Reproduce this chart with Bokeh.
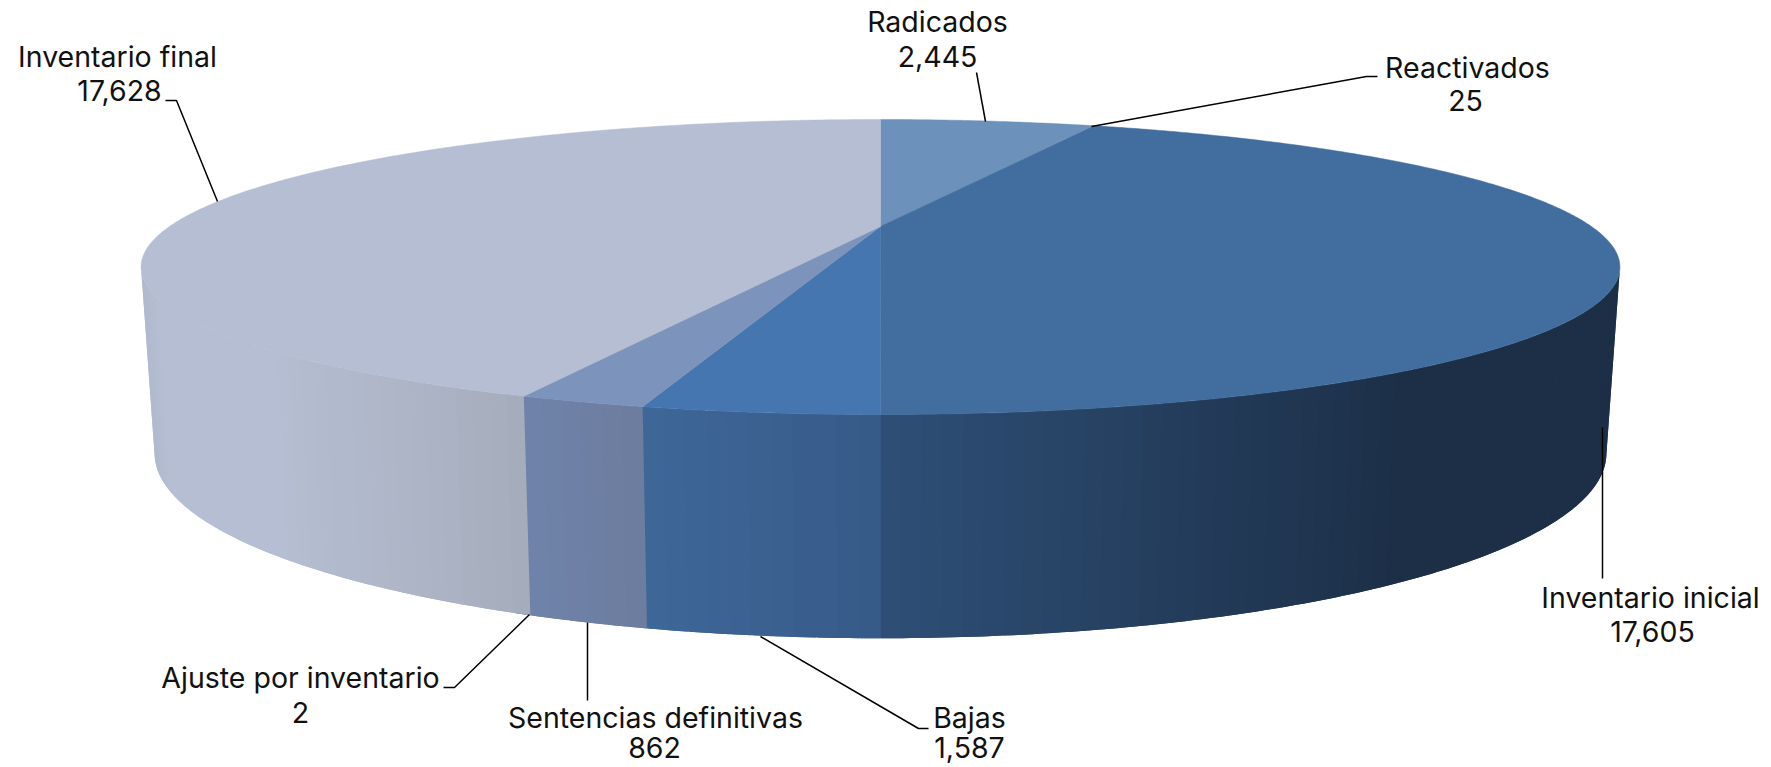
import math
from bokeh.plotting import figure
from bokeh.models import ColumnDataSource, Range1d
from bokeh.core.properties import value
from bokeh.embed import file_html
from bokeh.resources import INLINE

# ---- data ----
categories = ["Radicados", "Reactivados", "Inventario inicial", "Bajas",
              "Sentencias definitivas", "Ajuste por inventario", "Inventario final"]
values = [2445, 25, 17605, 1587, 862, 2, 17628]

# ---- style: top face colour, and side gradient stops (x, colour) per slice ----
top_colors = ["#6c92bb", "#6c92bb", "#426e9f", "#4676b0", "#7c93bb", "#7c93bb", "#b5bed2"]
side_stops = [
    [(0, "#6c92bb")],
    [(0, "#6c92bb")],
    [(880, "#2e4f77"), (1400, "#1c2f47"), (1700, "#1c2f47")],
    [(640, "#3e6899"), (880, "#375a88")],
    [(525, "#6f82aa"), (640, "#6c7d9e")],
    [(525, "#6f82aa")],
    [(139, "#adb7cb"), (165, "#b5bed2"), (280, "#b5bed2"), (525, "#a5adbc")],
]

# ---- projection of the disc: top rim and bottom rim (pixels of the window) ----
K = 0.2746
TOP = dict(cx=880.0, cy=226.0, a=711.0, b=136.4)
BOT = dict(cx=880.0, cy=402.0, a=698.0, b=171.0)

# ---- label layout: (centre x, baseline y) ----
name_pos = [(937, 31), (1467, 77), (1650, 607), (969, 727), (655, 727), (300, 687), (117, 66)]
num_pos = [(937, 66), (1465, 110), (1652, 641), (969, 757), (654, 757), (300, 722), (119, 100)]
leaders = [
    [(976, 72), (985, 121)],
    [(1091, 126), (1366, 76), (1377, 76)],
    [(1602, 427), (1602, 578)],
    [(760, 636), (918, 728), (928, 728)],
    [(587, 622), (587, 700)],
    [(529, 614), (454, 687), (443, 687)],
    [(217, 201), (176, 100), (165, 100)],
]
FONT = "Inter"
FONT_SIZE = "28.5px"
TEXT_DY = -10


def project(theta, rim):
    u, v = math.sin(theta), math.cos(theta)
    d = 1 + K * v
    return rim["cx"] + rim["a"] * u / d, rim["cy"] - rim["b"] * v / d


def hex2rgb(h):
    return tuple(int(h[i:i + 2], 16) for i in (1, 3, 5))


def shade(stops, x):
    if x <= stops[0][0]:
        return stops[0][1]
    for (x0, c0), (x1, c1) in zip(stops, stops[1:]):
        if x <= x1:
            t = (x - x0) / (x1 - x0)
            r0, r1 = hex2rgb(c0), hex2rgb(c1)
            return "#%02x%02x%02x" % tuple(round(p + (q - p) * t) for p, q in zip(r0, r1))
    return stops[-1][1]


total = sum(values)
edges = [0.0]
for val in values:
    edges.append(edges[-1] + val / total * 2 * math.pi)

front_start = math.acos(-K)
front_end = 2 * math.pi - front_start
STEP = math.radians(1.2)

side_x, side_y, side_c = [], [], []
top_x, top_y = [], []
for i in range(len(values)):
    t0, t1 = edges[i], edges[i + 1]
    # top face
    n = max(2, int((t1 - t0) / math.radians(0.5)))
    ts = [t0 + (t1 - t0) * j / n for j in range(n + 1)]
    pts = [project(t, TOP) for t in ts]
    top_x.append([TOP["cx"]] + [p[0] for p in pts])
    top_y.append([TOP["cy"]] + [p[1] for p in pts])
    # visible side wall, cut into strips painted in order, each lapping under the next
    a0, a1 = max(t0, front_start), min(t1, front_end)
    if a1 <= a0:
        continue
    m = max(1, int((a1 - a0) / STEP))
    for j in range(m):
        s0 = a0 + (a1 - a0) * j / m
        s1 = min(front_end, a0 + (a1 - a0) * (j + 1) / m + STEP)
        mid = a0 + (a1 - a0) * (j + 0.5) / m
        arc = [s0 + (s1 - s0) * q / 4 for q in range(5)]
        upper = [project(t, TOP) for t in arc]
        lower = [project(t, BOT) for t in reversed(arc)]
        side_x.append([c[0] for c in upper + lower])
        side_y.append([c[1] for c in upper + lower])
        side_c.append(shade(side_stops[i], (project(mid, TOP)[0] + project(mid, BOT)[0]) / 2))

p = figure(width=1771, height=767, output_backend="svg", toolbar_location=None,
           x_range=Range1d(0, 1771), y_range=Range1d(767, 0),
           x_axis_type=None, y_axis_type=None, min_border=0, outline_line_color=None)
p.grid.visible = False
p.background_fill_color = "white"

p.patches(side_x, side_y, fill_color=side_c, line_color=None)
p.patches(top_x, top_y, fill_color=top_colors, line_color=top_colors, line_width=0.5)

p.multi_line([[a[0] for a in l] for l in leaders], [[a[1] for a in l] for l in leaders],
             line_color="black", line_width=1.5)

src = ColumnDataSource(dict(
    x=[q[0] for q in name_pos] + [q[0] for q in num_pos],
    y=[q[1] for q in name_pos] + [q[1] for q in num_pos],
    t=categories + [f"{v:,}" for v in values],
))
p.text("x", "y", text="t", source=src, text_align="center", text_baseline="alphabetic",
       y_offset=TEXT_DY, text_font=value(FONT), text_font_size=value(FONT_SIZE),
       text_color="#111111")

open("out.html", "w").write(file_html(p, INLINE))
